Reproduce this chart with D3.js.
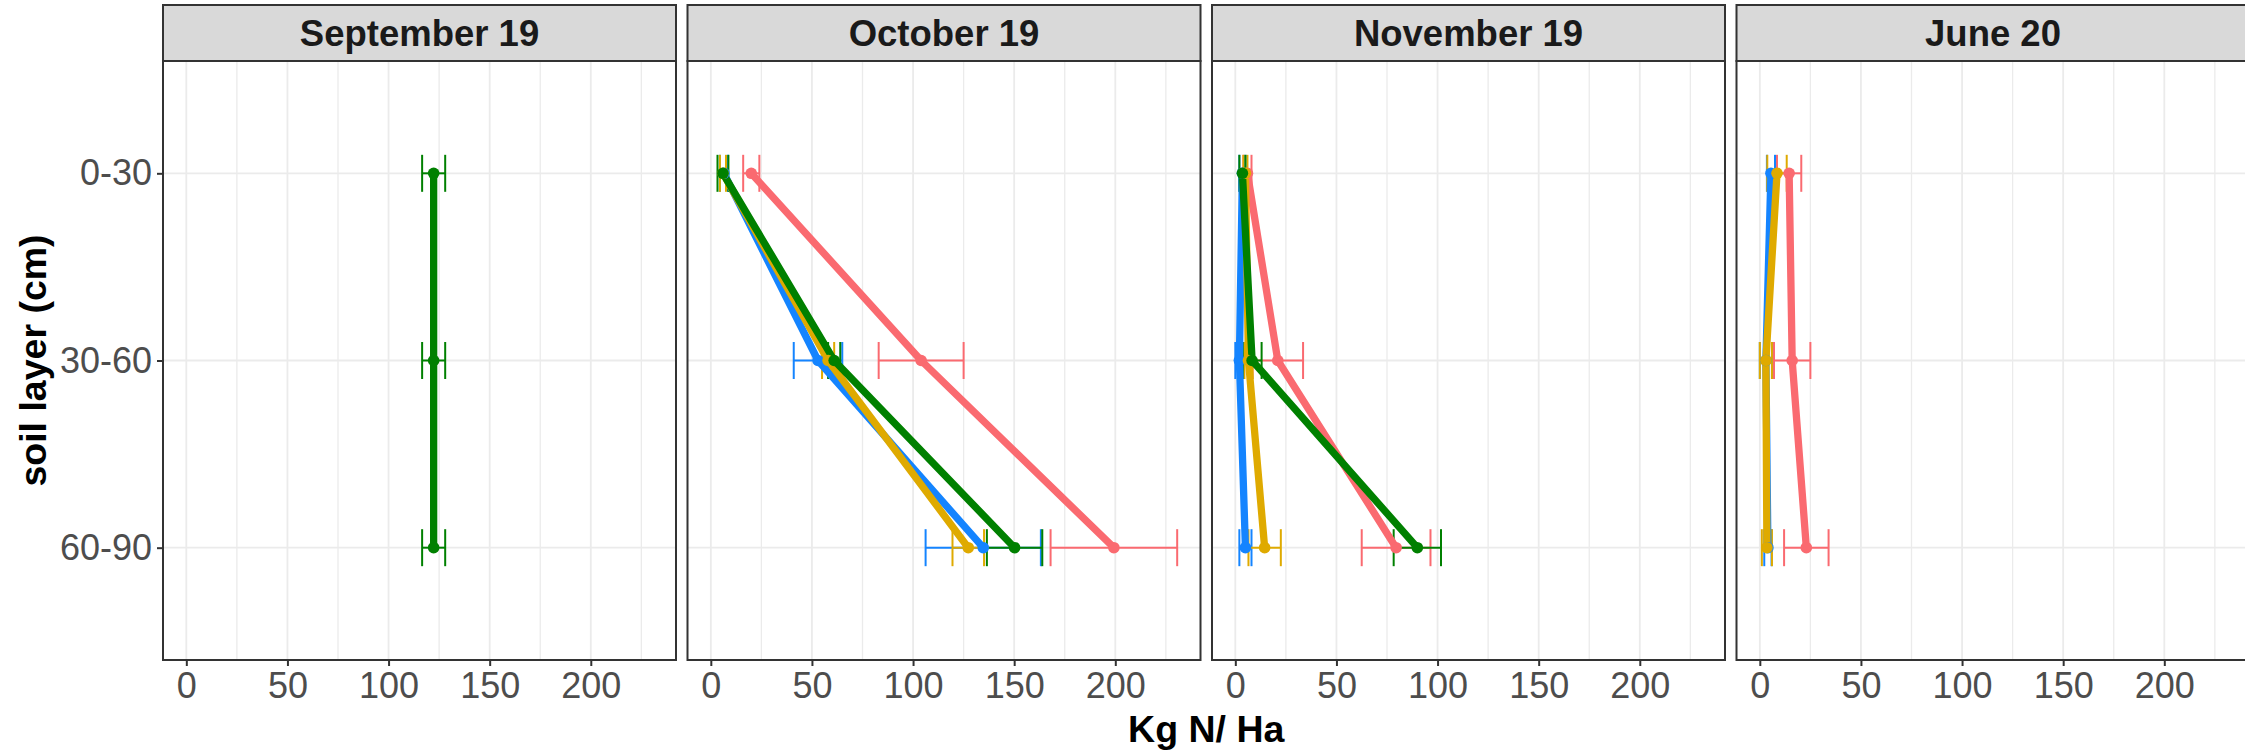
<!DOCTYPE html>
<html>
<head>
<meta charset="utf-8">
<script src="https://cdn.jsdelivr.net/npm/d3@7"></script>
<style>
  html, body { margin: 0; padding: 0; background: #fff; }
  svg { display: block; }
  text { font-family: "Liberation Sans", Arial, sans-serif; }
</style>
</head>
<body>
<svg id="chart" width="2245" height="750"></svg>
<script>
// ---------------- DATA ----------------
const months = ["September 19", "October 19", "November 19", "June 20"];
const layers = ["0-30", "30-60", "60-90"];
const xTicks = [0, 50, 100, 150, 200];
const xMinorTicks = [25, 75, 125, 175, 225];
const seriesNames = ["red", "blue", "yellow", "green"];
const seriesColors = ["#FA6A70", "#1484FF", "#DFAA00", "#008000"];

// mean Kg N/ha per month (null = not sampled), values ordered by layer 0-30, 30-60, 60-90
const redMean    = [null, [20, 104, 199.3], [6, 21, 79.5], [14.5, 16, 23]];
const redErr     = [null, [4, 21, 31.3], [2, 12.5, 17], [6, 9, 11]];
const blueMean   = [null, [6.5, 53, 134.7], [3.5, 2, 5], [5.5, 3, 4]];
const blueErr    = [null, [2, 12, 28.5], [1.5, 2, 3], [2, 3, 1.8]];
const yellowMean = [null, [6, 58, 127.3], [5, 6.5, 14.5], [8.5, 3, 3.5]];
const yellowErr  = [null, [1.5, 3, 7.8], [1, 2, 8], [4.8, 3, 2.5]];
const greenMean  = [[122.3, 122.3, 122.3], [6, 61, 150.2], [3.5, 8.3, 90], null];
const greenErr   = [[5.7, 5.7, 5.7], [2.7, 3, 13.7], [1.5, 4.7, 11.7], null];

const allMeans = [redMean, blueMean, yellowMean, greenMean];
const allErrs  = [redErr, blueErr, yellowErr, greenErr];

// ---------------- LAYOUT ----------------
const svg = d3.select("#chart");
const firstLeft = 163, panelW = 513, gap = 11.5;
const stripTop = 5, stripBottom = 61, panelBottom = 660;
const tickFont = 36;

// build records
const records = [];
seriesNames.forEach((s, si) => {
  months.forEach((m, mi) => {
    const mv = allMeans[si][mi];
    if (!mv) return;
    const pts = layers.map((l, li) => ({
      layer: l, mean: mv[li], lo: mv[li] - allErrs[si][mi][li], hi: mv[li] + allErrs[si][mi][li]
    }));
    records.push({ series: s, si, month: m, mi, pts });
  });
});

// shared x scale domain with ggplot-like 5% expansion
const lo = d3.min(records, r => d3.min(r.pts, p => Math.min(p.lo, p.mean)));
const hi = d3.max(records, r => d3.max(r.pts, p => Math.max(p.hi, p.mean)));
const dMin = Math.min(0, lo), dMax = hi;
const ex = (dMax - dMin) * 0.05;
const xDomain = [dMin - ex, dMax + ex];

const y = d3.scalePoint().domain(layers).range([stripBottom, panelBottom]).padding(0.6);

months.forEach((m, mi) => {
  const left = firstLeft + mi * (panelW + gap);
  const x = d3.scaleLinear().domain(xDomain).range([left, left + panelW]);
  const g = svg.append("g");

  // panel background
  g.append("rect").attr("x", left).attr("y", stripBottom)
    .attr("width", panelW).attr("height", panelBottom - stripBottom).attr("fill", "#fff");

  // grid
  g.selectAll(".minor").data(xMinorTicks).join("line")
    .attr("x1", d => x(d)).attr("x2", d => x(d))
    .attr("y1", stripBottom).attr("y2", panelBottom)
    .attr("stroke", "#EBEBEB").attr("stroke-width", 1.3);
  g.selectAll(".major").data(xTicks).join("line")
    .attr("x1", d => x(d)).attr("x2", d => x(d))
    .attr("y1", stripBottom).attr("y2", panelBottom)
    .attr("stroke", "#EBEBEB").attr("stroke-width", 1.8);
  g.selectAll(".hmajor").data(layers).join("line")
    .attr("x1", left).attr("x2", left + panelW)
    .attr("y1", d => y(d)).attr("y2", d => y(d))
    .attr("stroke", "#EBEBEB").attr("stroke-width", 1.8);

  const recs = records.filter(r => r.mi === mi);

  // error bars
  recs.forEach(r => {
    const c = seriesColors[r.si];
    const eg = g.append("g").attr("stroke", c).attr("stroke-width", 2).attr("fill", "none");
    r.pts.forEach(p => {
      const yy = y(p.layer);
      eg.append("line").attr("x1", x(p.lo)).attr("x2", x(p.hi)).attr("y1", yy).attr("y2", yy);
      eg.append("line").attr("x1", x(p.lo)).attr("x2", x(p.lo)).attr("y1", yy - 18.5).attr("y2", yy + 18.5);
      eg.append("line").attr("x1", x(p.hi)).attr("x2", x(p.hi)).attr("y1", yy - 18.5).attr("y2", yy + 18.5);
    });
  });

  // lines
  const line = d3.line().x(p => x(p.mean)).y(p => y(p.layer));
  recs.forEach(r => {
    g.append("path").attr("d", line(r.pts))
      .attr("fill", "none").attr("stroke", seriesColors[r.si])
      .attr("stroke-width", 7.3).attr("stroke-linejoin", "round");
  });
  // points
  recs.forEach(r => {
    g.selectAll(null).data(r.pts).join("circle")
      .attr("cx", p => x(p.mean)).attr("cy", p => y(p.layer)).attr("r", 5.8)
      .attr("fill", seriesColors[r.si]);
  });

  // panel border
  g.append("rect").attr("x", left).attr("y", stripBottom)
    .attr("width", panelW).attr("height", panelBottom - stripBottom)
    .attr("fill", "none").attr("stroke", "#333333").attr("stroke-width", 2);

  // strip
  g.append("rect").attr("x", left).attr("y", stripTop)
    .attr("width", panelW).attr("height", stripBottom - stripTop)
    .attr("fill", "#D9D9D9").attr("stroke", "#333333").attr("stroke-width", 2);
  g.append("text").attr("x", left + panelW / 2).attr("y", 46)
    .attr("text-anchor", "middle").attr("font-weight", "bold")
    .attr("font-size", 36.5).attr("fill", "#1A1A1A").text(m);

  // x axis
  const xAxis = d3.axisBottom(x).tickValues(xTicks).tickSize(6).tickPadding(6);
  const ax = g.append("g").attr("transform", `translate(0,${panelBottom})`).call(xAxis);
  ax.select(".domain").remove();
  ax.selectAll(".tick line").attr("stroke", "#333333").attr("stroke-width", 2);
  ax.selectAll(".tick text").attr("font-size", tickFont).attr("fill", "#4D4D4D")
    .attr("font-family", "Liberation Sans, Arial, sans-serif").attr("dy", "0.71em");

  if (mi === 0) {
    const yAxis = d3.axisLeft(y).tickSize(6).tickPadding(5);
    const ay = g.append("g").attr("transform", `translate(${left},0)`).call(yAxis);
    ay.select(".domain").remove();
    ay.selectAll(".tick line").attr("stroke", "#333333").attr("stroke-width", 2);
    ay.selectAll(".tick text").attr("font-size", tickFont).attr("fill", "#4D4D4D")
      .attr("font-family", "Liberation Sans, Arial, sans-serif");
  }
});

// axis titles
const lastRight = firstLeft + 4 * panelW + 3 * gap;
svg.append("text").attr("x", (firstLeft + lastRight) / 2).attr("y", 742)
  .attr("text-anchor", "middle").attr("font-weight", "bold").attr("font-size", 37.5)
  .attr("fill", "#000").text("Kg N/ Ha");
svg.append("text").attr("transform", `translate(46,${(stripBottom + panelBottom) / 2}) rotate(-90)`)
  .attr("text-anchor", "middle").attr("font-weight", "bold").attr("font-size", 37.5)
  .attr("fill", "#000").text("soil layer (cm)");
</script>
</body>
</html>
